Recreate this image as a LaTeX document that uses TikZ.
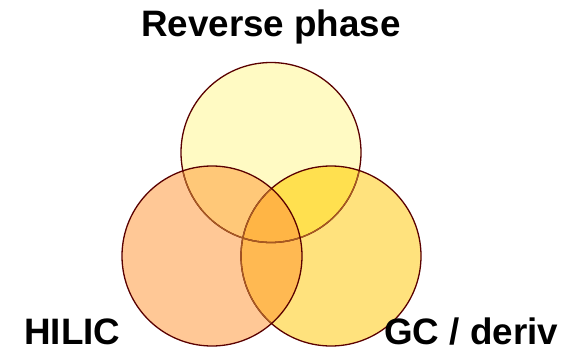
\documentclass[tikz,border=0pt]{standalone}
\usepackage{fontspec}
\setmainfont{Liberation Sans}
\definecolor{cT}{HTML}{FFFAC3}
\definecolor{cL}{HTML}{FFC896}
\definecolor{cR}{HTML}{FFE27D}
\definecolor{cTL}{HTML}{FFC878}
\definecolor{cTR}{HTML}{FFE04F}
\definecolor{cLR}{HTML}{FFB952}
\definecolor{cTLR}{HTML}{FFB545}
\definecolor{edge}{HTML}{5A0000}
\definecolor{edgelight}{HTML}{A85A22}
\begin{document}
\begin{tikzpicture}[x=1pt,y=-1pt]
\tikzset{
  ring/.style={circle,minimum size=180pt,inner sep=0pt,draw=edge,line width=1.3pt},
  lbl/.style={font=\bfseries\fontsize{36.8}{40}\selectfont,inner sep=0pt}
}
\useasboundingbox (0,0) rectangle (577,350);
\coordinate (T) at (271,152.5);
\coordinate (L) at (212,256);
\coordinate (R) at (331,256);
% fills
\fill[cT] (T) circle[radius=90pt];
\fill[cL] (L) circle[radius=90pt];
\fill[cR] (R) circle[radius=90pt];
\begin{scope}
  \clip (T) circle[radius=90pt];
  \fill[cTL] (L) circle[radius=90pt];
  \fill[cTR] (R) circle[radius=90pt];
\end{scope}
\begin{scope}
  \clip (L) circle[radius=90pt];
  \fill[cLR] (R) circle[radius=90pt];
  \clip (T) circle[radius=90pt];
  \fill[cTLR] (R) circle[radius=90pt];
\end{scope}
% outlines
\node[ring] (top) at (T) {};
\node[ring] (right) at (R) {};
\begin{scope}
  \clip (L) circle[radius=89pt];
  \draw[edgelight,line width=1.3pt] (T) circle[radius=90pt];
  \draw[edgelight,line width=1.3pt] (R) circle[radius=90pt];
\end{scope}
\begin{scope}
  \clip (R) circle[radius=89pt];
  \draw[edgelight,line width=1.3pt] (T) circle[radius=90pt];
\end{scope}
\node[ring] (left) at (L) {};
% labels
\node[lbl,anchor=base] (rp) at (271,37) {Reverse phase};
\node[lbl,anchor=base west] (hilic) at (24,344) {HILIC};
\node[lbl,anchor=base west] (gc) at (384,344) {GC / deriv};
\end{tikzpicture}
\end{document}
